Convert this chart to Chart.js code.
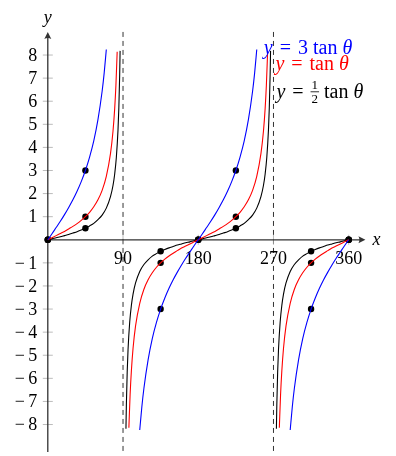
<!DOCTYPE html>
<html>
<head>
<meta charset="utf-8">
<script src="https://cdn.jsdelivr.net/npm/chart.js@4.4.1/dist/chart.umd.min.js"></script>
<style>
  html, body { margin: 0; padding: 0; background: #fff; }
  canvas { display: block; }
</style>
</head>
<body>
<canvas id="c" width="396" height="456"></canvas>
<script>
// ---- data (theta in degrees, null = break at asymptote) ----
const blueTheta = [0,5,10,15,20,25,30,35,40,45,50,55,60,65,67.5,70,
  90,
  110,112.5,115,120,125,130,135,140,145,150,155,160,165,170,175,180,185,190,195,200,205,210,215,220,225,230,235,240,245,247.5,250,
  270,
  290,292.5,295,300,305,310,315,320,325,330,335,340,345,350,355,360];
const blueVals = [0,0.26,0.53,0.80,1.09,1.40,1.73,2.10,2.52,3.00,3.58,4.28,5.20,6.43,7.24,8.24,
  null,
  -8.24,-7.24,-6.43,-5.20,-4.28,-3.58,-3.00,-2.52,-2.10,-1.73,-1.40,-1.09,-0.80,-0.53,-0.26,0,0.26,0.53,0.80,1.09,1.40,1.73,2.10,2.52,3.00,3.58,4.28,5.20,6.43,7.24,8.24,
  null,
  -8.24,-7.24,-6.43,-5.20,-4.28,-3.58,-3.00,-2.52,-2.10,-1.73,-1.40,-1.09,-0.80,-0.53,-0.26,0];

const redTheta = [0,5,10,15,20,25,30,35,40,45,50,55,60,65,70,75,78,80,81.5,83,
  90,
  97,98.5,100,102,105,110,115,120,125,130,135,140,145,150,155,160,165,170,175,180,185,190,195,200,205,210,215,220,225,230,235,240,245,250,255,258,260,261.5,263,
  270,
  277,278.5,280,282,285,290,295,300,305,310,315,320,325,330,335,340,345,350,355,360];
const redVals = [0,0.09,0.18,0.27,0.36,0.47,0.58,0.70,0.84,1.00,1.19,1.43,1.73,2.14,2.75,3.73,4.70,5.67,6.69,8.14,
  null,
  -8.14,-6.69,-5.67,-4.70,-3.73,-2.75,-2.14,-1.73,-1.43,-1.19,-1.00,-0.84,-0.70,-0.58,-0.47,-0.36,-0.27,-0.18,-0.09,0,0.09,0.18,0.27,0.36,0.47,0.58,0.70,0.84,1.00,1.19,1.43,1.73,2.14,2.75,3.73,4.70,5.67,6.69,8.14,
  null,
  -8.14,-6.69,-5.67,-4.70,-3.73,-2.75,-2.14,-1.73,-1.43,-1.19,-1.00,-0.84,-0.70,-0.58,-0.47,-0.36,-0.27,-0.18,-0.09,0];

const blackTheta = [0,5,10,15,20,25,30,35,40,45,50,55,60,65,70,75,78,80,82,84,85,86,86.5,
  90,
  93.5,94,95,96,98,100,102,105,110,115,120,125,130,135,140,145,150,155,160,165,170,175,180,185,190,195,200,205,210,215,220,225,230,235,240,245,250,255,258,260,262,264,265,266,266.5,
  270,
  273.5,274,275,276,278,280,282,285,290,295,300,305,310,315,320,325,330,335,340,345,350,355,360];
const blackVals = [0,0.04,0.09,0.13,0.18,0.23,0.29,0.35,0.42,0.50,0.60,0.71,0.87,1.07,1.37,1.87,2.35,2.84,3.56,4.76,5.72,7.15,8.18,
  null,
  -8.18,-7.15,-5.72,-4.76,-3.56,-2.84,-2.35,-1.87,-1.37,-1.07,-0.87,-0.71,-0.60,-0.50,-0.42,-0.35,-0.29,-0.23,-0.18,-0.13,-0.09,-0.04,0,0.04,0.09,0.13,0.18,0.23,0.29,0.35,0.42,0.50,0.60,0.71,0.87,1.07,1.37,1.87,2.35,2.84,3.56,4.76,5.72,7.15,8.18,
  null,
  -8.18,-7.15,-5.72,-4.76,-3.56,-2.84,-2.35,-1.87,-1.37,-1.07,-0.87,-0.71,-0.60,-0.50,-0.42,-0.35,-0.29,-0.23,-0.18,-0.13,-0.09,-0.04,0];

// marked points
const markTheta = [0,45,135,180,225,315,360];
const markBlue  = [0,3,-3,0,3,-3,0];
const markRed   = [0,1,-1,0,1,-1,0];
const markBlack = [0,0.5,-0.5,0,0.5,-0.5,0];

// ticks / asymptotes
const xTicks = [90,180,270,360];
const yTicks = [-8,-7,-6,-5,-4,-3,-2,-1,1,2,3,4,5,6,7,8];
const asymptotes = [90,270];

const FONT = '"Liberation Serif", "Times New Roman", serif';

const pts = (xs, ys) => xs.map((x, i) => ({ x: x, y: ys[i] }));

function arrowHead(ctx, x, y, dir) {
  ctx.beginPath();
  if (dir === 'up') {
    ctx.moveTo(x, y);
    ctx.lineTo(x - 3.5, y + 7);
    ctx.quadraticCurveTo(x, y + 5, x + 3.5, y + 7);
  } else {
    ctx.moveTo(x, y);
    ctx.lineTo(x - 7, y - 3.5);
    ctx.quadraticCurveTo(x - 5, y, x - 7, y + 3.5);
  }
  ctx.closePath();
  ctx.fill();
}

// math-ish label: parts are {t, i} text runs, {gap} in em, or {frac}
function drawMath(ctx, x, y, parts, color) {
  const size = 20;
  ctx.fillStyle = color;
  ctx.textAlign = 'left';
  ctx.textBaseline = 'alphabetic';
  parts.forEach(p => {
    if (p.gap) { x += p.gap * size; return; }
    if (p.frac) {
      ctx.font = '13px ' + FONT;
      const w = Math.max(ctx.measureText(p.frac[0]).width, ctx.measureText(p.frac[1]).width) + 2;
      ctx.textAlign = 'center';
      ctx.fillText(p.frac[0], x + w / 2, y - 9);
      ctx.fillText(p.frac[1], x + w / 2, y + 5);
      ctx.fillRect(x, y - 6.8, w, 0.8);
      ctx.textAlign = 'left';
      x += w;
      return;
    }
    ctx.font = (p.i ? 'italic ' : '') + size + 'px ' + FONT;
    ctx.fillText(p.t, x, y);
    x += ctx.measureText(p.t).width;
  });
  return x;
}

const tikzAxes = {
  id: 'tikzAxes',
  beforeDatasetsDraw(chart) {
    const ctx = chart.ctx, xs = chart.scales.x, ys = chart.scales.y;
    const x0 = xs.getPixelForValue(0), y0 = ys.getPixelForValue(0);
    const top = ys.getPixelForValue(9), bottom = ys.getPixelForValue(ys.min);
    ctx.save();

    // dashed asymptotes
    ctx.strokeStyle = '#333';
    ctx.lineWidth = 1;
    ctx.setLineDash([5, 4]);
    asymptotes.forEach(a => {
      const px = xs.getPixelForValue(a);
      ctx.beginPath();
      ctx.moveTo(px, top);
      ctx.lineTo(px, bottom);
      ctx.stroke();
    });
    ctx.setLineDash([]);

    // tick marks (light gray)
    ctx.strokeStyle = '#aaa';
    ctx.lineWidth = 0.8;
    yTicks.forEach(v => {
      const py = ys.getPixelForValue(v);
      ctx.beginPath();
      ctx.moveTo(x0 - 5, py);
      ctx.lineTo(x0 + 5, py);
      ctx.stroke();
    });
    xTicks.forEach(v => {
      const px = xs.getPixelForValue(v);
      ctx.beginPath();
      ctx.moveTo(px, y0 - 5);
      ctx.lineTo(px, y0 + 5);
      ctx.stroke();
    });

    // axes
    ctx.strokeStyle = '#333';
    ctx.fillStyle = '#333';
    ctx.lineWidth = 1.3;
    const xEnd = xs.getPixelForValue(380);
    ctx.beginPath();
    ctx.moveTo(x0, y0);
    ctx.lineTo(xEnd - 3, y0);
    ctx.moveTo(x0, bottom);
    ctx.lineTo(x0, top + 3);
    ctx.stroke();
    arrowHead(ctx, x0, top, 'up');
    arrowHead(ctx, xEnd, y0, 'right');

    // tick labels
    ctx.fillStyle = '#000';
    ctx.font = '18px ' + FONT;
    ctx.textAlign = 'right';
    ctx.textBaseline = 'middle';
    yTicks.forEach(v => {
      const py = ys.getPixelForValue(v) + 1;
      const num = String(Math.abs(v));
      const right = x0 - 10.5;
      ctx.fillText(num, right, py);
      if (v < 0) ctx.fillText('\u2212', right - ctx.measureText(num).width - 3.5, py);
    });
    ctx.textAlign = 'center';
    xTicks.forEach(v => {
      ctx.fillText(String(v), xs.getPixelForValue(v), y0 + 19);
    });

    // axis names
    ctx.font = 'italic 18px ' + FONT;
    ctx.fillText('y', x0, top - 14);
    ctx.textAlign = 'left';
    ctx.fillText('x', xEnd + 7, y0);
    ctx.restore();
  },
  afterDatasetsDraw(chart) {
    const ctx = chart.ctx, xs = chart.scales.x, ys = chart.scales.y;
    ctx.save();
    drawMath(ctx, xs.getPixelForValue(258.5), ys.getPixelForValue(8.04),
      [{ t: 'y', i: true }, { gap: 0.35 }, { t: '=' }, { gap: 0.35 }, { t: '3' }, { gap: 0.25 }, { t: 'tan' }, { gap: 0.25 }, { t: '\u03b8', i: true }], '#0000ff');
    drawMath(ctx, xs.getPixelForValue(272.3), ys.getPixelForValue(7.36),
      [{ t: 'y', i: true }, { gap: 0.35 }, { t: '=' }, { gap: 0.35 }, { t: 'tan' }, { gap: 0.25 }, { t: '\u03b8', i: true }], '#ff0000');
    drawMath(ctx, xs.getPixelForValue(273.5), ys.getPixelForValue(6.13),
      [{ t: 'y', i: true }, { gap: 0.35 }, { t: '=' }, { gap: 0.35 }, { frac: ['1', '2'] }, { gap: 0.25 }, { t: 'tan' }, { gap: 0.25 }, { t: '\u03b8', i: true }], '#000');
    ctx.restore();
  }
};

const lineDs = (data, color) => ({
  data: data,
  showLine: true,
  borderColor: color,
  borderWidth: 1.1,
  pointRadius: 0,
  fill: false,
  spanGaps: false,
  cubicInterpolationMode: 'monotone'
});

const markDs = (ys) => ({
  data: pts(markTheta, ys),
  showLine: false,
  pointRadius: 3.2,
  pointBackgroundColor: '#000',
  pointBorderWidth: 0
});

new Chart(document.getElementById('c'), {
  type: 'scatter',
  data: {
    datasets: [
      lineDs(pts(blueTheta, blueVals), '#0000ff'),
      lineDs(pts(redTheta, redVals), '#ff0000'),
      lineDs(pts(blackTheta, blackVals), '#000000'),
      markDs(markBlue),
      markDs(markRed),
      markDs(markBlack)
    ]
  },
  options: {
    responsive: false,
    animation: false,
    events: [],
    layout: { padding: 0 },
    plugins: { legend: { display: false }, tooltip: { enabled: false } },
    scales: {
      x: { type: 'linear', display: false, min: -52.4, max: 411.8 },
      y: { type: 'linear', display: false, min: -9.19, max: 10.21 }
    }
  },
  plugins: [tikzAxes]
});
</script>
</body>
</html>
